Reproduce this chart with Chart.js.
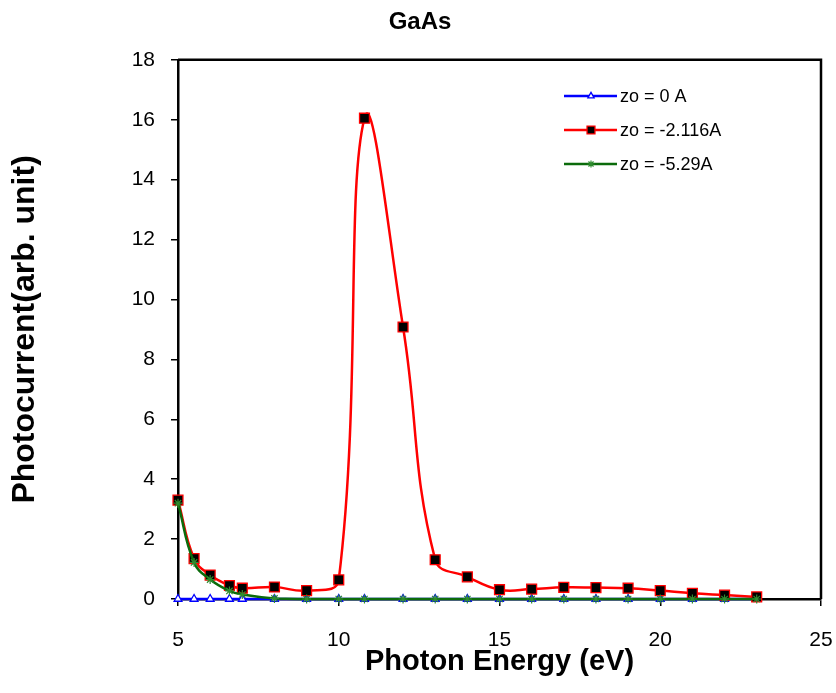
<!DOCTYPE html>
<html>
<head>
<meta charset="utf-8">
<script src="https://cdn.jsdelivr.net/npm/chart.js@4.4.0/dist/chart.umd.min.js"></script>
<style>
  body { margin: 0; background: #fff; }
</style>
</head>
<body>
<canvas id="theChart" width="836" height="693"></canvas>
<script>
const energy = [5, 5.5, 6, 6.6, 7, 8, 9, 10, 10.8, 12, 13, 14, 15, 16, 17, 18, 19, 20, 21, 22, 23]
const zo0 = [0, 0, 0, 0, 0, 0, 0, 0, 0, 0, 0, 0, 0, 0, 0, 0, 0, 0, 0, 0, 0]
const zo2116 = [3.3, 1.35, 0.8, 0.45, 0.36, 0.4, 0.28, 0.64, 16.05, 9.08, 1.31, 0.74, 0.31, 0.33, 0.39, 0.38, 0.36, 0.28, 0.19, 0.13, 0.07]
const zo529 = [3.2, 1.22, 0.65, 0.27, 0.15, 0.02, 0, 0, 0, 0, 0, 0, 0, 0, 0, 0, 0, 0, 0, 0, 0]
const seriesNames = ["zo = 0 A", "zo = -2.116A", "zo = -5.29A"]
const xTicks = [5, 10, 15, 20, 25]
const yTicks = [0, 2, 4, 6, 8, 10, 12, 14, 16, 18]

const font = "'Liberation Sans', Arial, sans-serif"

function toPoints(values) {
  return values.map((v, i) => ({ x: energy[i], y: v }))
}

// draws the legend with line + marker like excel does, and closes the plot box
const frameAndLegend = {
  id: "frameAndLegend",
  afterDatasetsDraw(chart) {
    const ctx = chart.ctx
    const area = chart.chartArea
    ctx.save()
    ctx.strokeStyle = "#000"
    ctx.lineWidth = 2.5
    ctx.beginPath()
    ctx.moveTo(area.left, area.top)
    ctx.lineTo(area.right, area.top)
    ctx.lineTo(area.right, area.bottom)
    ctx.stroke()

    let x0 = area.right - 257
    let y = 96
    chart.data.datasets.forEach((ds) => {
      ctx.strokeStyle = ds.borderColor
      ctx.lineWidth = 2.5
      ctx.beginPath()
      ctx.moveTo(x0, y)
      ctx.lineTo(x0 + 53, y)
      ctx.stroke()
      ctx.fillStyle = ds.pointBackgroundColor
      ctx.strokeStyle = ds.pointBorderColor
      ctx.lineWidth = ds.pointBorderWidth
      Chart.helpers.drawPoint(ctx, {
        pointStyle: ds.pointStyle,
        radius: ds.pointRadius * 0.8,
        rotation: 0,
        borderWidth: ds.pointBorderWidth
      }, x0 + 27, y)
      ctx.fillStyle = "#000"
      ctx.font = "18px " + font
      ctx.textBaseline = "middle"
      ctx.textAlign = "left"
      ctx.fillText(ds.label, x0 + 56, y + 1)
      y += 34
    })
    ctx.restore()
  }
}

let chart = new Chart(document.getElementById("theChart").getContext("2d"), {
  type: "line",
  data: {
    datasets: [
      {
        label: seriesNames[0],
        data: toPoints(zo0),
        borderColor: "#0000ff",
        borderWidth: 2.5,
        pointStyle: "triangle",
        pointRadius: 4.5,
        pointBackgroundColor: "#ffffff",
        pointBorderColor: "#0000ff",
        pointBorderWidth: 1.3,
        tension: 0.42,
        order: 3,
        clip: 12
      },
      {
        label: seriesNames[1],
        data: toPoints(zo2116),
        borderColor: "#ff0000",
        borderWidth: 2.5,
        pointStyle: "rect",
        pointRadius: 7,
        pointBackgroundColor: "#000000",
        pointBorderColor: "#ff0000",
        pointBorderWidth: 1.3,
        tension: 0.42,
        order: 2,
        clip: 12
      },
      {
        label: seriesNames[2],
        data: toPoints(zo529),
        borderColor: "#0b6b0b",
        borderWidth: 2.5,
        pointStyle: "star",
        pointRadius: 4.5,
        pointBackgroundColor: "#0b6b0b",
        pointBorderColor: "#2e8b2e",
        pointBorderWidth: 1.2,
        tension: 0.42,
        order: 1,
        clip: 12
      }
    ]
  },
  options: {
    responsive: false,
    animation: false,
    events: [],
    layout: {
      padding: { left: 4, right: 0, top: 0, bottom: 6 }
    },
    plugins: {
      legend: { display: false },
      tooltip: { enabled: false },
      title: {
        display: true,
        text: "GaAs",
        color: "#000",
        font: { family: font, size: 24, weight: "bold" },
        padding: { top: 8, bottom: 23 }
      }
    },
    scales: {
      x: {
        type: "linear",
        min: 5,
        max: 25,
        afterFit(scale) {
          scale.height = 88
          scale.paddingLeft = 0
          scale.paddingRight = 15
        },
        afterBuildTicks(scale) { scale.ticks = xTicks.map(v => ({ value: v })) },
        grid: { drawOnChartArea: false, drawTicks: true, tickLength: 7, color: "#000", lineWidth: 1.5 },
        border: { color: "#000", width: 2.5 },
        ticks: { color: "#000", padding: 22, font: { family: font, size: 21 } },
        title: {
          display: true,
          text: "Photon Energy (eV)",
          color: "#000",
          font: { family: font, size: 29, weight: "bold" },
          padding: { top: 0, bottom: 8 }
        }
      },
      y: {
        min: 0,
        max: 18,
        afterFit(scale) { scale.width = 174 },
        afterBuildTicks(scale) { scale.ticks = yTicks.map(v => ({ value: v })) },
        grid: { drawOnChartArea: false, drawTicks: true, tickLength: 7, color: "#000", lineWidth: 1.5 },
        border: { color: "#000", width: 2.5 },
        ticks: { color: "#000", padding: 16, font: { family: font, size: 21 } },
        title: {
          display: true,
          text: "Photocurrent(arb. unit)",
          color: "#000",
          font: { family: font, size: 32, weight: "bold" },
          padding: { top: 2, bottom: 0 }
        }
      }
    }
  },
  plugins: [frameAndLegend]
});
</script>
</body>
</html>
